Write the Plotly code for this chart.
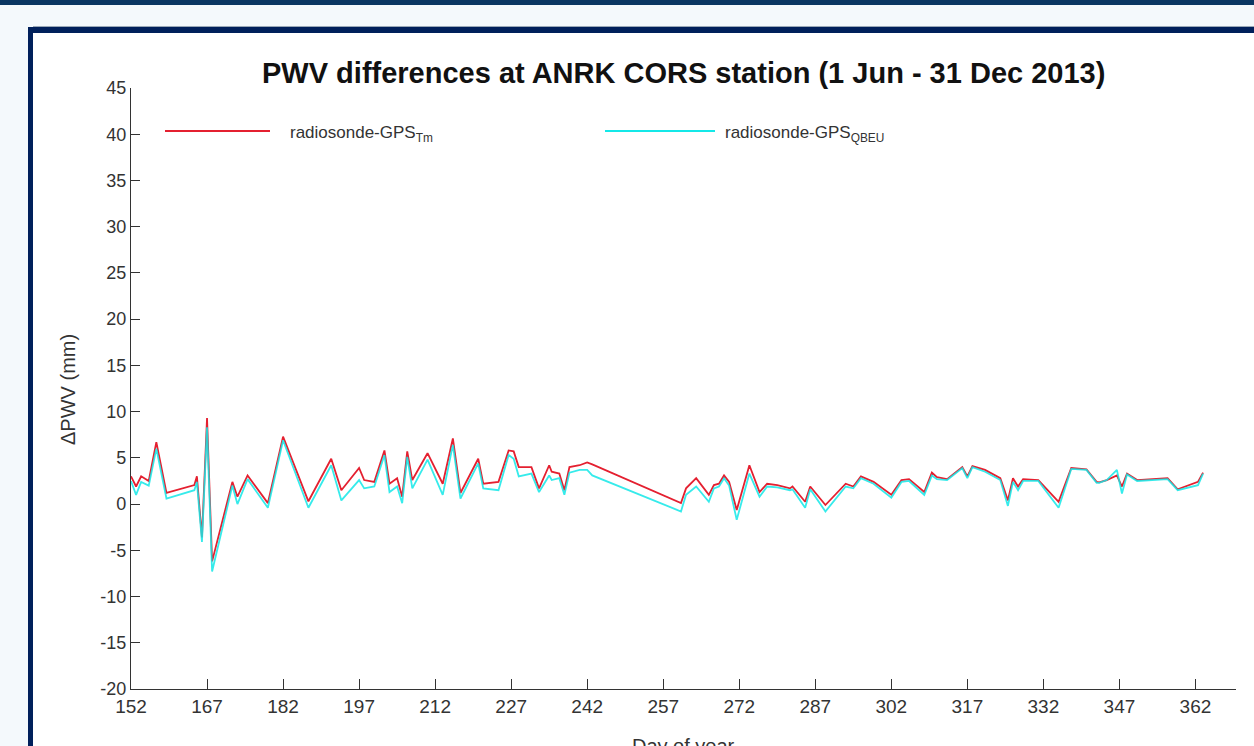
import plotly.graph_objects as go

# ---- data ----
day = [152, 153, 154, 155.5, 157, 159, 164.5, 165, 166, 167, 168, 172, 173, 175, 179, 182,
       187, 191.5, 193.5, 197, 198, 200, 202, 203, 204.5, 205.5, 206.5, 207.5, 210.5, 213.5,
       215.5, 217, 220.5, 221.5, 224.5, 226.5, 227.5, 228.5, 231, 232.5, 234.5, 235, 236.5,
       237.5, 238.5, 240.5, 242, 243, 260.5, 261.5, 263.5, 266, 267, 268, 269, 270, 271.5,
       274, 276, 277.5, 279.5, 282, 282.5, 285, 286, 289, 293, 294.5, 296, 298.5, 302, 304,
       305.5, 308.5, 310, 311, 313, 316, 317, 318, 320.5, 323.5, 325, 326, 327, 328, 331, 335,
       337.5, 340.5, 342.5, 343, 344.5, 346.5, 347.5, 348.5, 350.5, 356.5, 358.5, 362.5, 363.5]

tm = [3.0, 1.9, 3.0, 2.5, 6.7, 1.2, 2.05, 3.0, -3.6, 9.3, -6.2, 2.4, 0.8, 3.1, 0.1, 7.3,
      0.3, 4.9, 1.5, 3.9, 2.6, 2.4, 5.8, 2.2, 2.8, 0.8, 5.7, 2.6, 5.5, 2.2,
      7.1, 1.2, 4.9, 2.2, 2.4, 5.8, 5.7, 4.0, 4.0, 1.7, 4.2, 3.5, 3.3,
      1.5, 4.0, 4.2, 4.5, 4.3, 0.1, 1.7, 2.8, 1.0, 2.05, 2.2, 3.1, 2.4, -0.65,
      4.2, 1.3, 2.2, 2.05, 1.7, 1.9, 0.25, 1.9, -0.1, 2.2, 1.9, 3.0, 2.4, 1.0, 2.6,
      2.7, 1.3, 3.4, 2.9, 2.7, 4.0, 3.0, 4.1, 3.7, 2.8, 0.4, 2.8, 1.9, 2.7, 2.6, 0.25,
      3.9, 3.75, 2.4, 2.35, 2.6, 3.1, 1.9, 3.3, 2.6, 2.8, 1.6, 2.4, 3.4]

qbeu = [2.5, 1.0, 2.4, 2.0, 6.0, 0.6, 1.5, 2.4, -4.1, 8.3, -7.3, 2.0, 0.0, 2.7, -0.4, 6.9,
        -0.4, 4.2, 0.4, 2.6, 1.7, 1.9, 5.3, 1.3, 1.9, 0.1, 5.1, 1.7, 4.8, 1.0,
        6.4, 0.6, 4.4, 1.7, 1.5, 5.3, 4.9, 3.0, 3.3, 1.3, 3.1, 2.6, 2.8,
        1.0, 3.4, 3.7, 3.7, 3.1, -0.8, 1.0, 1.9, 0.25, 1.7, 1.9, 2.8, 2.0, -1.7,
        3.3, 0.8, 1.9, 1.8, 1.5, 1.6, -0.4, 1.6, -0.8, 1.9, 1.7, 2.8, 2.2, 0.7, 2.4,
        2.5, 1.0, 3.1, 2.7, 2.6, 3.9, 2.8, 4.0, 3.5, 2.6, -0.2, 2.4, 1.5, 2.5, 2.5, -0.4,
        3.8, 3.7, 2.3, 2.3, 2.6, 3.7, 1.15, 3.2, 2.5, 2.7, 1.5, 2.05, 3.3]

x_ticks = [152, 167, 182, 197, 212, 227, 242, 257, 272, 287, 302, 317, 332, 347, 362]
y_ticks = list(range(-20, 50, 5))

series_names = ["radiosonde-GPS<sub>Tm</sub>", "radiosonde-GPS<sub>QBEU</sub>"]
RED = "rgb(228,32,48)"
CYAN = "rgb(20,232,232)"
FONT = "Liberation Sans, Arial"

W, H = 1254, 746
L, R, T, B = 131, 18, 88, 57
PW, PH = W - L - R, H - T - B


def px(xp):
    return (xp - L) / PW


def py(yp):
    return (H - B - yp) / PH


fig = go.Figure()
fig.add_trace(go.Scatter(x=day, y=tm, mode="lines", name=series_names[0],
                         line=dict(color=RED, width=1.8), showlegend=False))
fig.add_trace(go.Scatter(x=day, y=qbeu, mode="lines", name=series_names[1],
                         line=dict(color=CYAN, width=1.8), opacity=0.85, showlegend=False))

shapes = [
    dict(type="rect", xref="paper", yref="paper", x0=px(0), x1=px(W), y0=py(0), y1=py(5),
         fillcolor="#0a3662", line_width=0, layer="below"),
    dict(type="line", xref="paper", yref="paper", x0=px(33), x1=px(W), y0=py(26.5), y1=py(26.5),
         line=dict(color="#9aa9b8", width=1), layer="below"),
    dict(type="rect", xref="paper", yref="paper", x0=px(28), x1=px(W), y0=py(27), y1=py(33),
         fillcolor="#00205b", line_width=0, layer="below"),
    dict(type="rect", xref="paper", yref="paper", x0=px(28), x1=px(33), y0=py(27), y1=py(H),
         fillcolor="#00205b", line_width=0, layer="below"),
    dict(type="rect", xref="paper", yref="paper", x0=px(33), x1=px(W), y0=py(33), y1=py(H),
         fillcolor="white", line_width=0, layer="below"),
    # legend swatches
    dict(type="line", xref="paper", yref="paper", x0=px(165), x1=px(270), y0=py(131), y1=py(131),
         line=dict(color=RED, width=2)),
    dict(type="line", xref="paper", yref="paper", x0=px(605), x1=px(715), y0=py(131), y1=py(131),
         line=dict(color=CYAN, width=2)),
]

annotations = [
    dict(text="<b>PWV differences at ANRK CORS station (1 Jun - 31 Dec 2013)</b>",
         xref="paper", yref="paper", x=0.5, y=py(73), xanchor="center", yanchor="middle",
         showarrow=False, font=dict(size=29, color="#111", family=FONT)),
    dict(text="ΔPWV (mm)", xref="paper", yref="paper", x=px(68), y=py(390), textangle=-90,
         xanchor="center", yanchor="middle", showarrow=False,
         font=dict(size=20, color="#333", family=FONT)),
    dict(text="Day of year", xref="paper", yref="paper", x=0.5, y=py(746),
         xanchor="center", yanchor="middle", showarrow=False,
         font=dict(size=20, color="#333", family=FONT)),
    dict(text=series_names[0], xref="paper", yref="paper", x=px(288), y=py(134),
         xanchor="left", yanchor="middle", showarrow=False,
         font=dict(size=17, color="#333", family=FONT)),
    dict(text=series_names[1], xref="paper", yref="paper", x=px(723), y=py(134),
         xanchor="left", yanchor="middle", showarrow=False,
         font=dict(size=17, color="#333", family=FONT)),
]

fig.update_layout(
    width=W, height=H,
    margin=dict(l=L, r=R, t=T, b=B),
    paper_bgcolor="#f4f9fc",
    plot_bgcolor="rgba(0,0,0,0)",
    shapes=shapes,
    annotations=annotations,
    showlegend=False,
    font=dict(family=FONT, color="#333"),
)

fig.update_xaxes(range=[152, 370], tickmode="array", tickvals=x_ticks,
                 ticktext=[str(v) for v in x_ticks],
                 showgrid=False, zeroline=False, showline=True, linecolor="#333", linewidth=1.3,
                 ticks="inside", ticklen=10, tickcolor="#333", tickwidth=1.3,
                 tickfont=dict(size=19, color="#333"))
fig.update_yaxes(range=[-20, 45], tickmode="array", tickvals=y_ticks,
                 ticktext=[str(v) for v in y_ticks],
                 showgrid=False, zeroline=False, showline=True, linecolor="#333", linewidth=1.3,
                 ticks="inside", ticklen=9, tickcolor="#333", tickwidth=1.3,
                 tickfont=dict(size=18, color="#333"))

fig.write_html("out.html", config={"displayModeBar": False},
               post_script="document.body.style.margin='0';document.body.style.overflow='hidden';")
